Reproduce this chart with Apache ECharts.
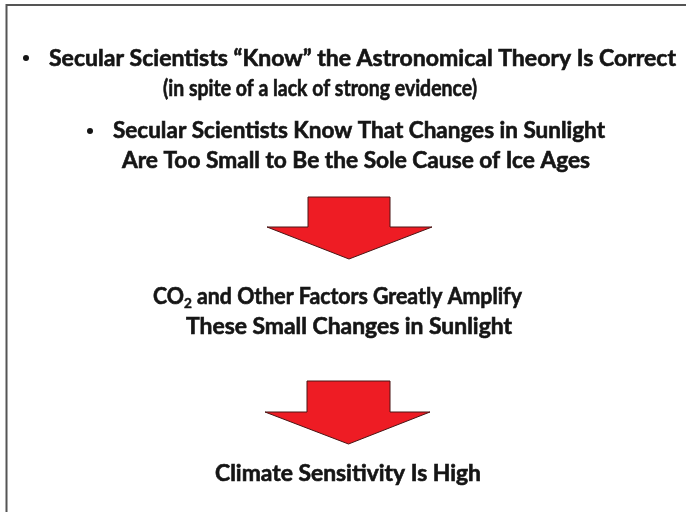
<!DOCTYPE html>
<html>
<head>
<meta charset="utf-8">
<script src="https://cdn.jsdelivr.net/npm/echarts@6/dist/echarts.min.js"></script>
<style>
  html, body { margin: 0; padding: 0; background: #fff; }
  #main { width: 686px; height: 512px; }
</style>
</head>
<body>
<div id="main"></div>
<script>
// text of the slide, top to bottom
const topBullets = [
  ['Secular Scientists \u201cKnow\u201d the Astronomical Theory Is Correct', '(in spite of a lack of strong evidence)'],
  ['Secular Scientists Know That Changes in Sunlight', 'Are Too Small to Be the Sole Cause of Ice Ages']
];
const middleLines = [
  [['CO', 'n'], ['2', 's'], [' and Other Factors Greatly Amplify', 'n']],
  [['These Small Changes in Sunlight', 'n']]
];
const bottomLine = 'Climate Sensitivity Is High';

const FONT = 'Lato';
const SIZE = 22;
const ctx = document.createElement('canvas').getContext('2d');
function measure(str, size) {
  ctx.font = 'bold ' + size + 'px ' + FONT;
  return ctx.measureText(str).width;
}
function richWidth(parts) {
  return parts.reduce((w, p) => w + measure(p[0], p[1] === 's' ? 14 : SIZE), 0);
}
const rich = {
  n: { fontFamily: FONT, fontWeight: 'bold', fontSize: SIZE, fill: '#151515', stroke: '#151515', lineWidth: 0.6 },
  s: { fontFamily: FONT, fontWeight: 'bold', fontSize: 14, fill: '#151515', stroke: '#151515', lineWidth: 0.5, padding: [12, 0, 0, 0] }
};
// places a line from x0 to x1 with its middle at y
function textLine(parts, x0, x1, y) {
  const w = richWidth(parts);
  return {
    type: 'text',
    x: x0, y: y,
    scaleX: (x1 - x0) / w,
    style: {
      text: parts.map(p => '{' + p[1] + '|' + p[0] + '}').join(''),
      rich: rich,
      align: 'left',
      verticalAlign: 'middle'
    }
  };
}
function bullet(x, y) {
  return { type: 'circle', shape: { cx: x, cy: y, r: 3 }, style: { fill: '#151515' } };
}
function arrow(sx0, sx1, top, hx0, hx1, shoulder, tip) {
  const cx = (sx0 + sx1) / 2;
  return {
    type: 'polygon',
    shape: { points: [[sx0, top], [sx1, top], [sx1, shoulder], [hx1, shoulder], [cx, tip], [hx0, shoulder], [sx0, shoulder]] },
    style: { fill: '#ee1c24', stroke: '#4a1515', lineWidth: 1 }
  };
}

const chart = echarts.init(document.getElementById('main'));
const graphic = [
  { type: 'line', shape: { x1: 6, y1: 5, x2: 686, y2: 5 }, style: { stroke: '#555', lineWidth: 2 } },
  { type: 'line', shape: { x1: 6.5, y1: 4, x2: 6.5, y2: 512 }, style: { stroke: '#555', lineWidth: 2 } },
  bullet(26, 58),
  textLine([[topBullets[0][0], 'n']], 49, 676, 59),
  textLine([[topBullets[0][1], 'n']], 163, 477, 89),
  bullet(90, 131),
  textLine([[topBullets[1][0], 'n']], 113, 605, 131),
  textLine([[topBullets[1][1], 'n']], 122, 590, 161),
  arrow(308, 390, 197, 267, 432, 227, 259),
  textLine(middleLines[0], 153, 522, 297),
  textLine(middleLines[1], 186, 512, 327),
  arrow(307, 390, 381, 265, 430, 412, 444),
  textLine([[bottomLine, 'n']], 215, 481, 474)
];
chart.setOption({
  backgroundColor: '#fff',
  animation: false,
  graphic: graphic
});
</script>
</body>
</html>
